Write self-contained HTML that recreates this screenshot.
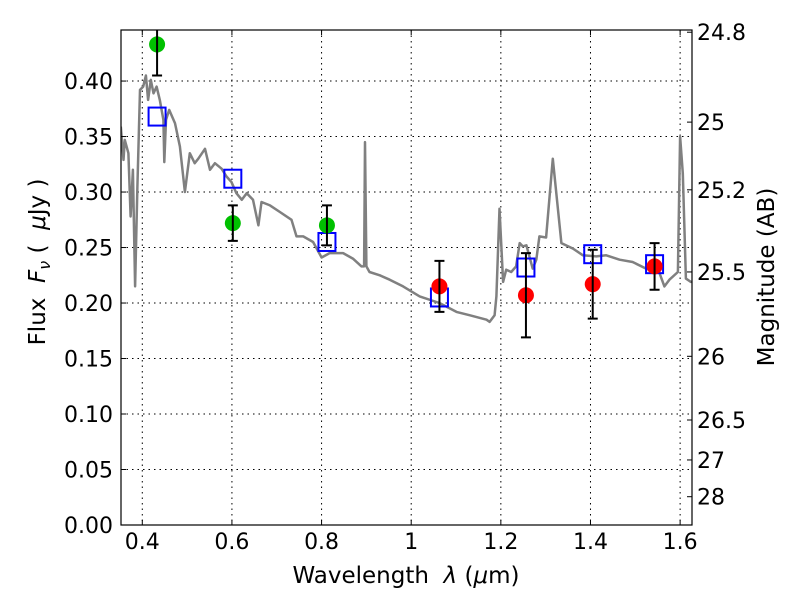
<!DOCTYPE html>
<html><head><meta charset="utf-8"><style>
body{margin:0;background:#fff}
svg text{font-family:"DejaVu Sans","Liberation Sans",sans-serif;fill:#000}
</style></head><body>
<svg id="chart" width="800" height="600" xmlns="http://www.w3.org/2000/svg">
<rect width="800" height="600" fill="#fff"/>
<defs><clipPath id="clip"><rect x="121" y="30" width="571" height="495"/></clipPath></defs>
<g id="grid"></g>
<g id="plot" clip-path="url(#clip)"></g>
<g id="axes"></g>
<rect x="121" y="30" width="571" height="495" fill="none" stroke="#000" stroke-width="1.2"/>
<text x="406" y="583" font-size="23" text-anchor="middle" xml:space="preserve">Wavelength  <tspan font-style="italic">λ</tspan> (<tspan font-style="italic">μ</tspan>m)</text>
<text transform="translate(45,262) rotate(-90)" font-size="23" text-anchor="middle" xml:space="preserve">Flux  <tspan font-style="italic">F</tspan><tspan font-style="italic" font-size="16" dy="5">ν</tspan><tspan dy="-5"> (  </tspan><tspan font-style="italic">μ</tspan>Jy )</text>
<text transform="translate(774,277) rotate(-90)" font-size="23" text-anchor="middle">Magnitude (AB)</text>
</svg>
<script>
const xTicks = [0.4, 0.6, 0.8, 1.0, 1.2, 1.4, 1.6];
const xTickLabels = ["0.4", "0.6", "0.8", "1", "1.2", "1.4", "1.6"];
const yTicks = [0, 0.05, 0.1, 0.15, 0.2, 0.25, 0.3, 0.35, 0.4];
const yTickLabels = ["0.00","0.05","0.10","0.15","0.20","0.25","0.30","0.35","0.40"];
const magLabels = ["24.8","25","25.2","25.5","26","26.5","27","28"];
const magFlux = [0.444, 0.363, 0.302, 0.228, 0.152, 0.0946, 0.0586, 0.0255];
const specLam = [0.352,0.358,0.361,0.369,0.374,0.379,0.384,0.389,0.395,0.402,0.408,0.413,0.419,0.425,0.432,0.439,0.447,0.449,0.453,0.460,0.473,0.484,0.495,0.506,0.517,0.525,0.540,0.551,0.562,0.577,0.588,0.599,0.610,0.622,0.633,0.647,0.659,0.666,0.685,0.707,0.733,0.744,0.759,0.781,0.800,0.818,0.848,0.870,0.889,0.895,0.897,0.900,0.907,0.930,0.952,0.982,1.019,1.063,1.101,1.130,1.168,1.175,1.186,1.190,1.197,1.205,1.212,1.223,1.234,1.242,1.249,1.257,1.271,1.279,1.286,1.301,1.316,1.335,1.361,1.383,1.413,1.435,1.465,1.494,1.524,1.554,1.565,1.576,1.595,1.600,1.606,1.613,1.624,1.630];
const specFlux = [0.359,0.329,0.347,0.335,0.278,0.320,0.215,0.305,0.392,0.395,0.405,0.383,0.401,0.389,0.395,0.383,0.365,0.327,0.365,0.374,0.362,0.341,0.300,0.335,0.326,0.330,0.339,0.320,0.326,0.321,0.314,0.309,0.299,0.293,0.299,0.293,0.270,0.291,0.288,0.282,0.275,0.260,0.260,0.255,0.241,0.245,0.245,0.240,0.233,0.233,0.345,0.233,0.228,0.225,0.221,0.215,0.206,0.200,0.192,0.189,0.185,0.183,0.189,0.206,0.285,0.219,0.230,0.228,0.233,0.254,0.251,0.252,0.231,0.239,0.260,0.259,0.330,0.254,0.249,0.243,0.242,0.243,0.239,0.237,0.231,0.227,0.215,0.221,0.228,0.350,0.317,0.222,0.219,0.219];
const greenLam = [0.433, 0.602, 0.812];
const greenFlux = [0.433, 0.272, 0.270];
const greenErr = [0.028, 0.016, 0.018];
const redLam = [1.063, 1.256, 1.405, 1.543];
const redFlux = [0.215, 0.207, 0.217, 0.233];
const redErr = [0.023, 0.038, 0.031, 0.021];
const modelLam = [0.433, 0.602, 0.812, 1.063, 1.256, 1.405, 1.543];
const modelFlux = [0.368, 0.312, 0.255, 0.205, 0.232, 0.244, 0.235];

const X0=121, X1=692, Y0=525, Y1=30;
const xmin=0.3525, xmax=1.6265, ymin=0, ymax=0.446;
function sx(v){return X0+(v-xmin)/(xmax-xmin)*(X1-X0);}
function sy(v){return Y0-(v-ymin)/(ymax-ymin)*(Y0-Y1);}
const NS="http://www.w3.org/2000/svg";
function mk(tag,attrs,parent){const e=document.createElementNS(NS,tag);for(const k in attrs)e.setAttribute(k,attrs[k]);parent.appendChild(e);return e;}
const grid=document.getElementById('grid'),plot=document.getElementById('plot'),axes=document.getElementById('axes');

xTicks.forEach((t,i)=>{
  const x=sx(t);
  const g=mk('line',{x1:x,x2:x,y1:Y1,y2:Y0,stroke:'#000','stroke-width':1,'stroke-dasharray':'1.5,4'},grid);
  
  
  const tk=mk('path',{d:`M${x},${Y0}v-5M${x},${Y1}v5`,stroke:'#000','stroke-width':1},axes);
  
  
  const tx=mk('text',{x:x,y:549,'font-size':22,'text-anchor':'middle'},axes);
  tx.textContent=xTickLabels[i];
  
  
});
yTicks.forEach((t,i)=>{
  const y=sy(t);
  const g=mk('line',{x1:X0,x2:X1,y1:y,y2:y,stroke:'#000','stroke-width':1,'stroke-dasharray':'1.5,4'},grid);
  
  
  const tk=mk('path',{d:`M${X0},${y}h5`,stroke:'#000','stroke-width':1},axes);
  
  
  const tx=mk('text',{x:113,y:y+8,'font-size':22,'text-anchor':'end'},axes);
  tx.textContent=yTickLabels[i];
  
  
});
magLabels.forEach((m,i)=>{
  const y=sy(magFlux[i]);
  const tk=mk('path',{d:`M${X1},${y}h-5`,stroke:'#000','stroke-width':1},axes);
  
  
  const tx=mk('text',{x:697,y:y+8,'font-size':22,'text-anchor':'start'},axes);
  tx.textContent=m;
  
  
});

const pts=specLam.map((l,i)=>sx(l).toFixed(1)+','+sy(specFlux[i]).toFixed(1)).join(' ');
const sp=mk('polyline',{points:pts,fill:'none',stroke:'#808080','stroke-width':2.5,'stroke-linejoin':'round'},plot);



modelLam.forEach((l,i)=>{
  const x=sx(l),y=sy(modelFlux[i]);
  const r=mk('rect',{x:x-8.5,y:y-9,width:17,height:18,fill:'none',stroke:'#0000ff','stroke-width':2},plot);
  
  
});
function pointsWithErr(lams,fl,er,color,name){
  lams.forEach((l,i)=>{
    const x=sx(l),y=sy(fl[i]),yt=sy(fl[i]+er[i]),yb=sy(fl[i]-er[i]);
    const c=mk('circle',{cx:x,cy:y,r:8,fill:color},plot);
    
    
    const e=mk('path',{d:`M${x},${yt}V${yb}M${x-5},${yt}h10M${x-5},${yb}h10`,stroke:'#000','stroke-width':2,fill:'none'},plot);
    
    
  });
}
pointsWithErr(greenLam,greenFlux,greenErr,'#00c000','optical-data-point');
pointsWithErr(redLam,redFlux,redErr,'#ff0000','nir-data-point');
</script>
</body></html>
